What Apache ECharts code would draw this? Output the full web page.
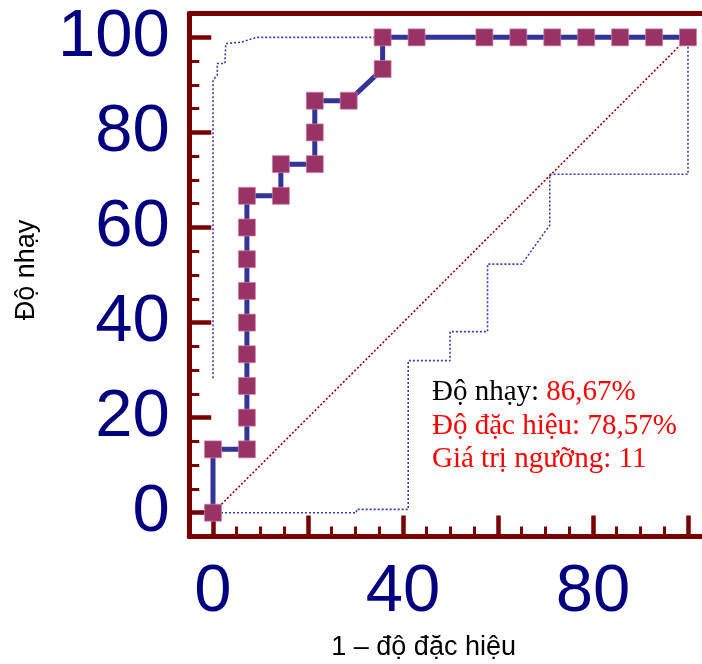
<!DOCTYPE html>
<html>
<head>
<meta charset="utf-8">
<script src="https://cdn.jsdelivr.net/npm/echarts@6/dist/echarts.min.js"></script>
<style>
html,body{margin:0;padding:0;background:#fff;}
#chart{width:702px;height:664px;}
</style>
</head>
<body>
<div id="chart"></div>
<script>
// ROC curve (1 - specificity, sensitivity), %
var rocX = [0, 0, 7.14, 7.14, 7.14, 7.14, 7.14, 7.14, 7.14, 7.14, 7.14, 14.29, 14.29, 21.43, 21.43, 21.43, 28.57, 35.71, 35.71, 42.86, 57.14, 64.29, 71.43, 78.57, 85.71, 92.86, 100];
var rocY = [0, 13.33, 13.33, 20, 26.67, 33.33, 40, 46.67, 53.33, 60, 66.67, 66.67, 73.33, 73.33, 80, 86.67, 86.67, 93.33, 100, 100, 100, 100, 100, 100, 100, 100, 100];
// upper confidence bound
var upX = [0, 0, 0.9, 0.9, 2.5, 2.7, 6, 9.2, 100];
var upY = [28.3, 91, 92.1, 94.5, 94.5, 98.7, 99.0, 100, 100];
// lower confidence bound
var loX = [0, 30.2, 30.2, 41.1, 41.1, 49.9, 49.9, 57.8, 57.8, 65, 70.9, 70.9, 100, 100];
var loY = [0, 0, 0.7, 0.7, 32, 32, 38.1, 38.1, 52.3, 52.3, 60.5, 71.2, 71.2, 100];
// reference diagonal
var diagX = [0, 100];
var diagY = [0, 100];
// ticks and labels
var majorTicks = [0, 20, 40, 60, 80, 100];
var minorTicks = [5, 10, 15, 25, 30, 35, 45, 50, 55, 65, 70, 75, 85, 90, 95];
var xLabels = [0, 40, 80];
var yLabels = [0, 20, 40, 60, 80, 100];
var xName = '1 – độ đặc hiệu';
var yName = 'Độ nhạy';

function zip(a, b) { return a.map(function (v, i) { return [v, b[i]]; }); }

var AX = '#7a0000';
var XMAX = 102.95;
var chart = echarts.init(document.getElementById('chart'), null, {renderer: 'canvas'});

function majorAxis(pos, labels, max, extra) {
  var o = {
    type: 'value', min: -5, max: max, position: pos,
    splitLine: {show: false},
    axisLine: {show: true, onZero: false, lineStyle: {color: AX, width: 5}},
    axisTick: {show: true, inside: true, length: 21, customValues: majorTicks, lineStyle: {color: AX, width: 4.5}},
    axisLabel: {show: true, customValues: labels, color: '#000080', fontSize: 67, fontFamily: 'Liberation Sans, Arial', lineHeight: 67}
  };
  for (var k in extra) o[k] = extra[k];
  return o;
}
function minorAxis(pos, max) {
  return {
    type: 'value', min: -5, max: max, position: pos,
    splitLine: {show: false},
    axisLine: {show: false, onZero: false},
    axisTick: {show: true, inside: true, length: 10, customValues: minorTicks, lineStyle: {color: AX, width: 3}},
    axisLabel: {show: false}
  };
}
function frameAxis(pos, max) {
  return {
    type: 'value', min: -5, max: max, position: pos,
    splitLine: {show: false},
    axisLine: {show: true, onZero: false, lineStyle: {color: AX, width: 5}},
    axisTick: {show: false}, axisLabel: {show: false}
  };
}

var xMain = majorAxis('bottom', xLabels, XMAX, {
  name: xName, nameLocation: 'middle', nameGap: 98,
  nameTextStyle: {fontSize: 27, fontFamily: 'Liberation Sans, Arial', color: '#000', lineHeight: 27, padding: [0, 44, 0, 0]}
});
xMain.axisLabel.margin = 23;
var yMain = majorAxis('left', yLabels, 105, {
  name: yName, nameLocation: 'middle', nameGap: 149, nameRotate: 90,
  nameTextStyle: {fontSize: 27, fontFamily: 'Liberation Sans, Arial', color: '#000', lineHeight: 27, padding: [0, 0, 0, 10]}
});
yMain.axisTick.length = 22;
yMain.axisLabel.margin = 19.5;

var option = {
  animation: false,
  backgroundColor: '#fff',
  grid: {left: 189.25, top: 13.6, width: 512.75, height: 522.9, containLabel: false, outerBoundsMode: 'none'},
  xAxis: [xMain, minorAxis('bottom', XMAX), frameAxis('top', XMAX)],
  yAxis: [yMain, minorAxis('left', 105)],
  series: [
    {type: 'line', data: zip(diagX, diagY), symbol: 'none', silent: true, z: 2,
     lineStyle: {color: '#a00000', width: 1.6, type: [2, 2]}},
    {type: 'line', data: zip(upX, upY), symbol: 'none', silent: true, z: 2,
     lineStyle: {color: '#3a3aae', width: 1.6, type: [2, 2]}},
    {type: 'line', data: zip(loX, loY), symbol: 'none', silent: true, z: 2,
     lineStyle: {color: '#3a3aae', width: 1.6, type: [2, 2]}},
    {type: 'line', data: zip(rocX, rocY), symbol: 'rect', symbolSize: 17, z: 3,
     lineStyle: {color: '#333399', width: 5},
     itemStyle: {color: '#993366', borderColor: 'rgba(210,130,170,0.7)', borderWidth: 1}}
  ],
  graphic: [{
    type: 'text', x: 432, y: 376, z: 10,
    style: {
      text: '{b|Độ nhạy: }{r|86,67%}\n{r|Độ đặc hiệu: 78,57%}\n{r|Giá trị ngưỡng: 11}',
      align: 'left', verticalAlign: 'top',
      rich: {
        b: {fill: '#000000', fontSize: 29, fontFamily: 'Liberation Serif, Times New Roman', lineHeight: 33.3},
        r: {fill: '#ff0000', fontSize: 29, fontFamily: 'Liberation Serif, Times New Roman', lineHeight: 33.3}
      }
    }
  }]
};
chart.setOption(option);
</script>
</body>
</html>
